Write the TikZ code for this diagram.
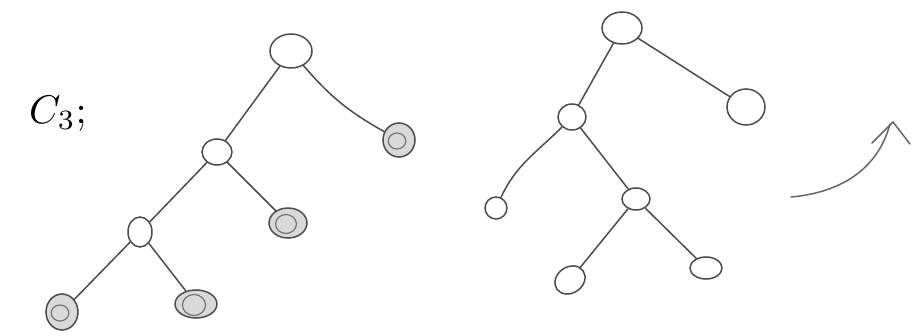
\documentclass[tikz,border=0pt]{standalone}
\usetikzlibrary{shapes.geometric,arrows.meta}
\begin{document}
\begin{tikzpicture}[x=1pt,y=-1pt,
  nd/.style={ellipse, draw=black!70, line width=1.5pt, inner sep=0pt, minimum width=#1},
  hv/.style={nd=#1, fill=gray!30,
    path picture={\draw[line width=1.2pt, draw=black!55] ([xshift=-2pt,yshift=-1pt]path picture bounding box.center) ellipse (0.55*#1/2 and 0.5*#1/2);}},
  link/.style={line width=1.5pt, draw=black!70, line cap=round, line join=round}
]
\useasboundingbox (0,0) rectangle (915,336);
% label
\node[scale=4, inner sep=0pt] (lab) at (58,114) {$C_3;$};
% left tree
\node[nd=42pt, minimum height=34pt] (r) at (291,51) {};
\node[hv=32pt, minimum height=34pt] (rr) at (399,140) {};
\node[nd=30pt, minimum height=26pt] (a) at (217,152) {};
\node[hv=38pt, minimum height=30pt] (ar) at (288,223) {};
\node[nd=24pt, minimum height=30pt] (b) at (140,232) {};
\node[hv=32pt, minimum height=36pt] (bl) at (62,312) {};
\node[hv=42pt, minimum height=28pt] (br) at (196,304) {};
\draw[link] (r) -- (a);
\draw[link] (r) to[bend right=10] (rr);
\draw[link] (a) -- (ar);
\draw[link] (a) -- (b);
\draw[link] (b) -- (bl);
\draw[link] (b) -- (br);
% right tree
\node[nd=40pt, minimum height=32pt] (R) at (622,28) {};
\node[nd=38pt, minimum height=36pt] (RR) at (746,107) {};
\node[nd=28pt, minimum height=26pt] (A) at (572,117) {};
\node[nd=22pt, minimum height=22pt] (AL) at (496,208) {};
\node[nd=28pt, minimum height=22pt] (M) at (636,199) {};
\node[nd=32pt, minimum height=26pt, rotate=35] (ML) at (570,280) {};
\node[nd=32pt, minimum height=22pt] (MR) at (706,268) {};
\draw[link] (R) -- (A);
\draw[link] (R) -- (RR);
\draw[link] (A) to[out=-135,in=65] (AL);
\draw[link] (A) -- (M);
\draw[link] (M) -- (ML);
\draw[link] (M) -- (MR);
% arrow
\coordinate (s) at (791,197);
\coordinate (e) at (890,124);
\draw[link, draw=black!60] (s) to[out=5,in=-105] (e);
\draw[link, draw=black!60] ([shift={(-18,19)}]e) -- ([shift={(3,-2)}]e) -- ([shift={(20,20)}]e);
\end{tikzpicture}
\end{document}
